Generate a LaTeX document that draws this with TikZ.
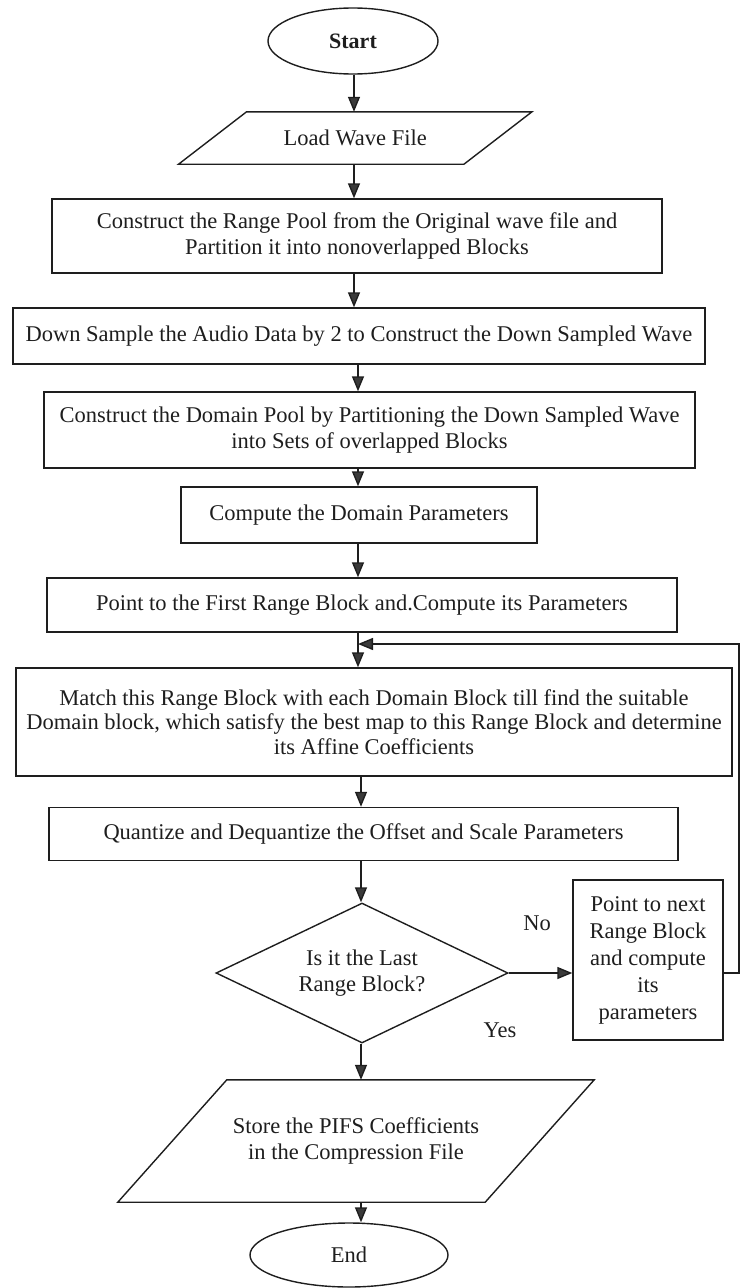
\documentclass[tikz,border=0pt]{standalone}
\usepackage{fontspec}
\setmainfont{Liberation Serif}
\usetikzlibrary{shapes.geometric,arrows.meta}
\definecolor{ink}{HTML}{1E1E1E}
\definecolor{tip}{HTML}{3A3A3A}
\begin{document}
\begin{tikzpicture}[x=1pt,y=-1pt,
  line/.style={draw=ink,line width=1.4pt},
  arr/.style={line,-{Triangle[length=15pt,width=12pt,fill=tip]}},
  txt/.style={font=\fontsize{22.5}{25.5}\selectfont,text=ink,align=center},
  procbox/.style={txt,line,rectangle,inner sep=0pt},
  term/.style={txt,line,ellipse,inner sep=0pt},
  iobox/.style={txt,rectangle,inner sep=0pt},
  decision/.style={txt,line,diamond,aspect=2.2,inner sep=0pt},
  lbl/.style={txt,inner sep=0pt}]
\useasboundingbox (0,0) rectangle (740,1288);
% column axes
\coordinate (ax1) at (354,0);
\coordinate (ax2) at (358,0);
\coordinate (ax3) at (361,0);
\coordinate (loopx) at (739,0);
\coordinate (join) at (358,644);

\node[term,minimum width=170pt,minimum height=66pt,font=\fontsize{22}{26}\selectfont\bfseries] (start) at (353,41) {Start};

\node[iobox,minimum width=285pt,minimum height=52pt] (load) at (355.25,138) {Load Wave File};
\draw[line] ([xshift=-34pt]load.south west) -- ([xshift=34pt]load.north west)
  -- ([xshift=34pt]load.north east) -- ([xshift=-34pt]load.south east) -- cycle;

\node[procbox,minimum width=610pt,minimum height=74pt] (range) at (357,236)
  {Construct the Range Pool from the Original wave file and\\ Partition it into nonoverlapped Blocks};
\node[procbox,minimum width=692pt,minimum height=56pt] (down) at (359,336)
  {Down Sample the Audio Data by 2 to Construct the Down Sampled Wave};
\node[procbox,minimum width=651pt,minimum height=76pt] (domain) at (369.5,430)
  {Construct the Domain Pool by Partitioning the Down Sampled Wave\\ into Sets of overlapped Blocks};
\node[procbox,minimum width=356pt,minimum height=56pt] (dpar) at (359,515)
  {Compute the Domain Parameters};
\node[procbox,minimum width=630pt,minimum height=54pt] (first) at (362,605)
  {Point to the First Range Block and.Compute its Parameters};
\node[procbox,minimum width=716pt,minimum height=108pt,font=\fontsize{22.5}{24.5}\selectfont] (match) at (374,722)
  {Match this Range Block with each Domain Block till find the suitable\\
   Domain block, which satisfy the best map to this Range Block and determine\\
   its Affine Coefficients};
\node[procbox,minimum width=629pt,minimum height=53pt] (quant) at (363.5,834)
  {Quantize and Dequantize the Offset and Scale Parameters};
\node[decision,minimum width=292pt,minimum height=140pt] (last) at (362,973)
  {Is it the Last\\ Range Block?};
\node[procbox,minimum width=150pt,minimum height=160pt,font=\fontsize{22.5}{27}\selectfont] (next) at (648,960)
  {Point to next\\ Range Block\\ and compute\\ its\\ parameters};
\node[lbl] (no) at (537,923) {No};
\node[lbl] (yes) at (500,1030) {Yes};

\node[iobox,minimum width=367pt,minimum height=122pt] (store) at (356,1141)
  {Store the PIFS Coefficients\\ in the Compression File};
\draw[line] ([xshift=-54.5pt]store.south west) -- ([xshift=54.5pt]store.north west)
  -- ([xshift=54.5pt]store.north east) -- ([xshift=-54.5pt]store.south east) -- cycle;

\node[term,minimum width=198pt,minimum height=64pt] (end) at (349,1255) {End};

% connectors
\draw[arr] (start.south -| ax1) -- (load.north -| ax1);
\draw[arr] (load.south -| ax1) -- (range.north -| ax1);
\draw[arr] (range.south -| ax1) -- (down.north -| ax1);
\draw[arr] (down.south -| ax2) -- (domain.north -| ax2);
\draw[arr] (domain.south -| ax2) -- (dpar.north -| ax2);
\draw[arr] (dpar.south -| ax2) -- (first.north -| ax2);
\draw[arr] (first.south -| ax2) -- (match.north -| ax2);
\draw[arr] (match.south -| ax3) -- (quant.north -| ax3);
\draw[arr] (quant.south -| ax3) -- (last.north -| ax3);
\draw[arr] (last.south -| ax3) -- (store.north -| ax3);
\draw[arr] (store.south -| ax3) -- (end.north -| ax3);
\draw[arr] (last.east) -- (last.east -| next.west);
\draw[arr] (last.east -| next.east) -- (last.east -| loopx) -- (loopx |- join) -- (join);
\end{tikzpicture}
\end{document}
